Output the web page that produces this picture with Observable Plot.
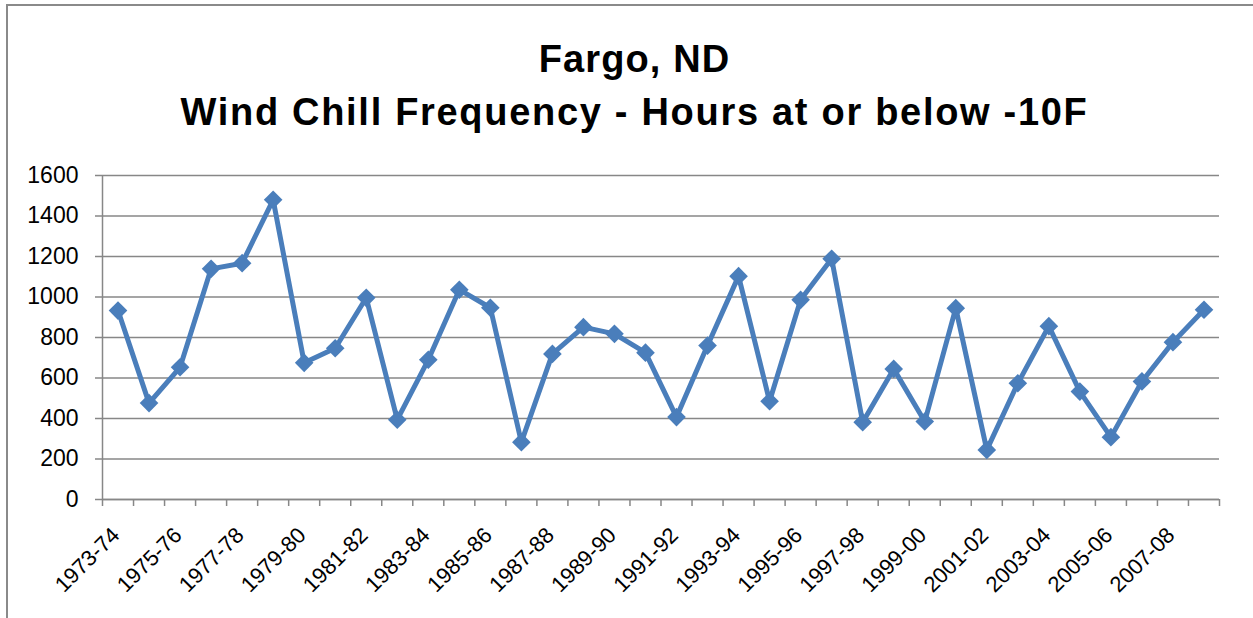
<!DOCTYPE html>
<html>
<head>
<meta charset="utf-8">
<script src="https://cdn.jsdelivr.net/npm/d3@7"></script>
<script src="https://cdn.jsdelivr.net/npm/@observablehq/plot@0.6"></script>
<style>
  html, body { margin: 0; padding: 0; background: #fff; }
  #wrap { position: relative; width: 1253px; height: 618px; overflow: hidden; font-family: "Liberation Sans", Arial, sans-serif; }
  #frame { position: absolute; left: 6px; top: 4px; width: 1300px; height: 700px; border-top: 2px solid #8a8a8a; border-left: 2px solid #8a8a8a; }
  .title { position: absolute; left: 8px; width: 1253px; text-align: center; font-weight: bold; font-size: 38px; line-height: 1; color: #000; white-space: nowrap; }
  #t1 { top: 40px; letter-spacing: 1.1px; }
  #t2 { top: 93px; letter-spacing: 1.7px; }
  #chart { position: absolute; left: 0; top: 0; }
</style>
</head>
<body>
<div id="wrap">
  <div id="frame"></div>
  <div id="chart"></div>
  <div class="title" id="t1">Fargo, ND</div>
  <div class="title" id="t2">Wind Chill Frequency - Hours at or below -10F</div>
</div>
<script>
const seasons = ["1973-74","1974-75","1975-76","1976-77","1977-78","1978-79","1979-80","1980-81","1981-82","1982-83","1983-84","1984-85","1985-86","1986-87","1987-88","1988-89","1989-90","1990-91","1991-92","1992-93","1993-94","1994-95","1995-96","1996-97","1997-98","1998-99","1999-00","2000-01","2001-02","2002-03","2003-04","2004-05","2005-06","2006-07","2007-08","2008-09"];
const hours = [933, 476, 653, 1139, 1167, 1480, 675, 747, 996, 394, 690, 1036, 947, 283, 719, 851, 818, 725, 407, 760, 1103, 485, 986, 1189, 382, 645, 385, 945, 245, 574, 856, 533, 308, 583, 777, 937];
const yTicks = [0, 200, 400, 600, 800, 1000, 1200, 1400, 1600];

const data = seasons.map((s, i) => ({i, season: s, value: hours[i]}));
const idx = seasons.map((s, i) => i);
const boundaries = [...idx.map(i => i - 0.5), seasons.length - 0.5];
const labelIdx = idx.filter(i => i % 2 === 0);

const gray = "#878787";
const blue = "#4a7ebb";

const chart = Plot.plot({
  width: 1253,
  height: 618,
  marginTop: 175,
  marginBottom: 119,
  marginLeft: 102,
  marginRight: 34,
  style: {fontFamily: "'Liberation Sans', Arial, sans-serif", fontSize: "23px", background: "transparent", color: "#000"},
  x: {type: "linear", domain: [-0.5, seasons.length - 0.5], axis: null},
  y: {domain: [0, 1600], axis: null},
  marks: [
    Plot.gridY(yTicks, {stroke: gray, strokeOpacity: 1, strokeWidth: 1.5}),
    Plot.ruleX([-0.5], {stroke: gray, strokeWidth: 1.5}),
    Plot.ruleY([0], {stroke: gray, strokeWidth: 1.5}),
    Plot.axisY(yTicks, {tickSize: 7, tickPadding: 17, tickFormat: d => String(d), stroke: gray, strokeWidth: 1.5, fill: "#000", label: null, fontSize: 23}),
    Plot.axisX(boundaries, {tickSize: 7, tickFormat: () => "", stroke: gray, strokeWidth: 1.5, label: null}),
    Plot.axisX(labelIdx, {tickSize: 0, tickPadding: 10, tickRotate: -45, tickFormat: i => seasons[i], fill: "#000", label: null, fontSize: 22, dx: -2, dy: 22}),
    Plot.line(data, {x: "i", y: "value", stroke: blue, strokeWidth: 5, strokeLinejoin: "miter"}),
    Plot.dot(data, {x: "i", y: "value", symbol: "diamond2", r: 8.4, fill: blue, stroke: "none"})
  ]
});
document.getElementById("chart").appendChild(chart);
</script>
</body>
</html>
